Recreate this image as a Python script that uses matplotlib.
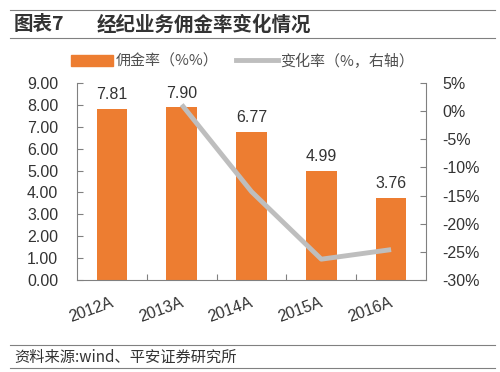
import matplotlib
matplotlib.use("Agg")
import matplotlib.pyplot as plt
from matplotlib.lines import Line2D
from matplotlib.patches import Patch

plt.rcParams['font.family'] = ['Noto Sans CJK SC', 'DejaVu Sans']

categories = ["2012A", "2013A", "2014A", "2015A", "2016A"]
commission = [7.81, 7.90, 6.77, 4.99, 3.76]
change_cats = ["2013A", "2014A", "2015A", "2016A"]
change_pct = [1.15, -14.3, -26.3, -24.6]
left_ticks = [0, 1, 2, 3, 4, 5, 6, 7, 8, 9]
right_ticks = [5, 0, -5, -10, -15, -20, -25, -30]

bar_color = "#ED7D31"
line_color = "#BEBEBE"
text_color = "#333333"
num_font = ['Liberation Sans', 'DejaVu Sans']
fs = 11.5

fig = plt.figure(figsize=(5.0, 3.72), dpi=100)
W, H = 500, 372

def fx(px):
    return px / W

def fy(py):
    return 1 - py / H

ax = fig.add_axes([fx(77), fy(280), fx(426) - fx(77), fy(83) - fy(280)])
x = list(range(len(categories)))
ax.bar(x, commission, width=0.44, color=bar_color, zorder=2)
for xi, v in zip(x, commission):
    ax.text(xi, v + 0.3, f"{v:.2f}", ha="center", va="bottom", fontsize=fs, color=text_color, family=num_font)
ax.set_xlim(-0.5, len(categories) - 0.5)
ax.set_ylim(0, 9)
ax.set_yticks(left_ticks)
ax.set_yticklabels([f"{t:.2f}" for t in left_ticks], fontsize=fs, color=text_color, family=num_font)
ax.set_xticks([i + 0.5 for i in range(len(categories) - 1)])
ax.set_xticklabels([])
ax.set_xticks([i + 0.05 for i in x], minor=True)
ax.set_xticklabels(categories, minor=True, rotation=20, ha='right', va='top',
                   fontsize=fs, color=text_color, family=num_font)
ax.tick_params(axis='x', which='minor', length=0, pad=10.5)
ax.tick_params(axis='x', which='major', direction='in', length=4, color='#808080')
ax.tick_params(axis='y', direction='in', length=4, color='#808080', pad=13.5)
for s in ["top", "right"]:
    ax.spines[s].set_visible(False)
ax.spines["left"].set_color("#808080")
ax.spines["bottom"].set_color("#808080")

ax2 = ax.twinx()
ax2.plot([categories.index(c) for c in change_cats], change_pct, color=line_color, lw=3.5,
         solid_capstyle='butt', zorder=3)
ax2.set_ylim(-30, 5)
ax2.set_yticks(right_ticks)
ax2.set_yticklabels([f"{t}%" for t in right_ticks], fontsize=fs, color=text_color, family=num_font)
ax2.tick_params(axis='y', direction='in', length=4, color='#808080', pad=11.5)
for s in ["top", "left", "bottom"]:
    ax2.spines[s].set_visible(False)
ax2.spines["right"].set_color("#808080")
ax.set_zorder(1)
ax2.set_zorder(2)
ax2.patch.set_visible(False)

# Title and borders
fig.add_artist(Line2D([fx(10), fx(495)], [fy(10), fy(10)], color="#808080", lw=0.8))
fig.add_artist(Line2D([fx(10), fx(495)], [fy(38), fy(38)], color="#808080", lw=0.8))
fig.text(fx(14), fy(25), "图表7", fontsize=14, fontweight="bold", color=text_color, va="center")
fig.text(fx(97), fy(25), "经纪业务佣金率变化情况", fontsize=14, fontweight="bold", color=text_color, va="center")

# Legend
fig.legend(handles=[Patch(color=bar_color, label="佣金率（%%）"),
                    Line2D([0], [0], color=line_color, lw=3.5, label="变化率（%，右轴）")],
           loc="center", bbox_to_anchor=(fx(243), fy(61)), ncol=2, frameon=False,
           fontsize=10.8, handlelength=2.8, handleheight=0.8, handletextpad=0.15, columnspacing=1.2,
           labelcolor="#505050")

# Source
fig.add_artist(Line2D([fx(10), fx(495)], [fy(345), fy(345)], color="#808080", lw=0.8))
fig.add_artist(Line2D([fx(10), fx(495)], [fy(368), fy(368)], color="#808080", lw=0.8))
fig.text(fx(14), fy(357), "资料来源:wind、平安证券研究所", fontsize=11, style="italic", color=text_color, va="center")

fig.savefig("out.png", dpi=100)
